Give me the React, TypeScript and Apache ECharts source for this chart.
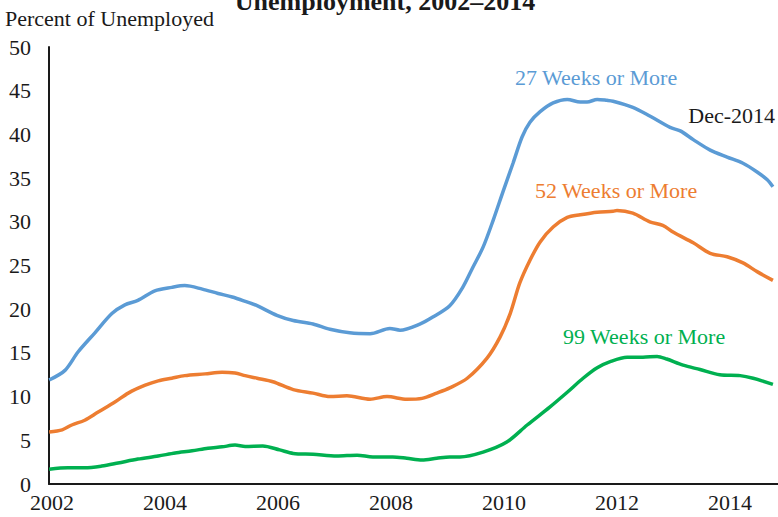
import React, { useEffect, useRef } from "react";
import * as echarts from "echarts";

const xLabels = [2002, 2004, 2006, 2008, 2010, 2012, 2014];
const yTicks = [0, 5, 10, 15, 20, 25, 30, 35, 40, 45, 50];

const weeks27: [number, number][] = [
  [2001.95, 11.9], [2002.23, 13.0], [2002.46, 15.1], [2002.76, 17.3], [2003.06, 19.5],
  [2003.29, 20.5], [2003.52, 21.0], [2003.82, 22.1], [2004.12, 22.5], [2004.35, 22.7],
  [2004.66, 22.3], [2004.94, 21.8], [2005.19, 21.4], [2005.42, 20.9], [2005.63, 20.4],
  [2005.98, 19.3], [2006.27, 18.7], [2006.62, 18.3], [2006.92, 17.7], [2007.27, 17.3],
  [2007.63, 17.2], [2007.98, 17.8], [2008.16, 17.6], [2008.51, 18.3], [2008.74, 19.1],
  [2009.04, 20.4], [2009.27, 22.5], [2009.45, 24.8], [2009.63, 27.1], [2009.81, 30.2],
  [2009.98, 33.4], [2010.16, 36.7], [2010.32, 39.7], [2010.46, 41.4], [2010.64, 42.6],
  [2010.87, 43.6], [2011.12, 44.0], [2011.35, 43.7], [2011.47, 43.7], [2011.65, 44.0],
  [2011.82, 43.9], [2011.93, 43.8], [2012.28, 43.1], [2012.58, 42.1], [2012.94, 40.8],
  [2013.12, 40.4], [2013.35, 39.4], [2013.65, 38.2], [2013.95, 37.4], [2014.23, 36.7],
  [2014.48, 35.7], [2014.66, 34.8], [2014.76, 34.0],
];

const weeks52: [number, number][] = [
  [2001.95, 5.95], [2002.18, 6.2], [2002.35, 6.75], [2002.58, 7.3], [2002.81, 8.2],
  [2003.12, 9.4], [2003.35, 10.4], [2003.65, 11.3], [2003.88, 11.8], [2004.12, 12.1],
  [2004.35, 12.4], [2004.71, 12.6], [2005.01, 12.8], [2005.24, 12.7], [2005.42, 12.4],
  [2005.63, 12.1], [2005.91, 11.7], [2006.27, 10.8], [2006.62, 10.4], [2006.92, 10.0],
  [2007.22, 10.1], [2007.63, 9.7], [2007.93, 10.0], [2008.28, 9.7], [2008.55, 9.8],
  [2008.81, 10.4], [2009.04, 11.0], [2009.35, 12.1], [2009.7, 14.4], [2009.93, 16.8],
  [2010.11, 19.5], [2010.28, 23.0], [2010.46, 25.6], [2010.64, 27.7], [2010.87, 29.4],
  [2011.12, 30.5], [2011.35, 30.8], [2011.65, 31.1], [2011.93, 31.2], [2012.0, 31.3],
  [2012.28, 31.0], [2012.58, 30.0], [2012.81, 29.6], [2013.0, 28.8], [2013.35, 27.6],
  [2013.65, 26.4], [2013.95, 26.0], [2014.23, 25.3], [2014.48, 24.3], [2014.76, 23.3],
];

const weeks99: [number, number][] = [
  [2001.95, 1.7], [2002.28, 1.85], [2002.58, 1.85], [2002.88, 2.05], [2003.17, 2.4],
  [2003.52, 2.85], [2003.88, 3.2], [2004.18, 3.55], [2004.48, 3.8], [2004.76, 4.1],
  [2005.01, 4.25], [2005.24, 4.45], [2005.42, 4.3], [2005.73, 4.35], [2006.03, 3.9],
  [2006.27, 3.5], [2006.62, 3.4], [2007.04, 3.2], [2007.4, 3.3], [2007.68, 3.1],
  [2008.03, 3.1], [2008.28, 2.95], [2008.55, 2.75], [2008.81, 2.95], [2009.04, 3.1],
  [2009.22, 3.1], [2009.63, 3.65], [2010.05, 4.8], [2010.41, 6.75], [2010.81, 8.8],
  [2011.12, 10.5], [2011.4, 12.1], [2011.65, 13.3], [2011.88, 14.0], [2012.18, 14.5],
  [2012.46, 14.5], [2012.71, 14.6], [2012.88, 14.3], [2013.17, 13.6], [2013.47, 13.1],
  [2013.82, 12.5], [2014.18, 12.4], [2014.41, 12.1], [2014.76, 11.4],
];

const FONT = "'Liberation Serif', 'Times New Roman', serif";
const BLUE = "#5B9BD5";
const ORANGE = "#ED7D31";
const GREEN = "#00B050";

export default function App() {
  const ref = useRef<HTMLDivElement>(null);
  useEffect(() => {
    if (!ref.current) return;
    const chart = echarts.init(ref.current, null, { renderer: "svg" });
    const lineSeries = (name: string, data: [number, number][], color: string) => ({
      name,
      type: "line",
      data,
      smooth: 0.3,
      symbol: "none",
      lineStyle: { color, width: 3.5 },
      itemStyle: { color },
    });
    chart.setOption({
      animation: false,
      backgroundColor: "#ffffff",
      grid: { left: 49, right: 0, top: 47, bottom: 33, containLabel: false },
      xAxis: {
        type: "value",
        min: 2001.947,
        max: 2014.85,
        axisLine: { show: true, lineStyle: { color: "#1a1a1a", width: 2 } },
        axisTick: { show: false },
        splitLine: { show: false },
        axisLabel: {
          customValues: xLabels,
          formatter: (v: number) => String(Math.round(v)),
          fontFamily: FONT,
          fontSize: 22,
          color: "#1a1a1a",
          margin: 7,
        },
      },
      yAxis: {
        type: "value",
        min: 0,
        max: 50,
        interval: 5,
        axisLine: { show: true, lineStyle: { color: "#1a1a1a", width: 2 } },
        axisTick: { show: false },
        splitLine: { show: false },
        axisLabel: {
          customValues: yTicks,
          fontFamily: FONT,
          fontSize: 22,
          color: "#1a1a1a",
          margin: 18,
        },
      },
      series: [
        lineSeries("27 Weeks or More", weeks27, BLUE),
        lineSeries("52 Weeks or More", weeks52, ORANGE),
        lineSeries("99 Weeks or More", weeks99, GREEN),
      ],
      graphic: [
        {
          type: "text",
          x: 385,
          y: 1,
          style: {
            text: "Unemployment, 2002–2014",
            fontFamily: FONT,
            fontSize: 26,
            fontWeight: "bold",
            fill: "#1a1a1a",
            align: "center",
            verticalAlign: "middle",
          },
        },
        {
          type: "text",
          x: 5,
          y: 18,
          style: { text: "Percent of Unemployed", fontFamily: FONT, fontSize: 22, fill: "#1a1a1a", align: "left", verticalAlign: "middle" },
        },
        {
          type: "text",
          x: 515,
          y: 77,
          style: { text: "27 Weeks or More", fontFamily: FONT, fontSize: 22, fill: BLUE, align: "left", verticalAlign: "middle" },
        },
        {
          type: "text",
          x: 535,
          y: 190,
          style: { text: "52 Weeks or More", fontFamily: FONT, fontSize: 22, fill: ORANGE, align: "left", verticalAlign: "middle" },
        },
        {
          type: "text",
          x: 563,
          y: 336,
          style: { text: "99 Weeks or More", fontFamily: FONT, fontSize: 22, fill: GREEN, align: "left", verticalAlign: "middle" },
        },
        {
          type: "text",
          x: 775,
          y: 115,
          style: { text: "Dec-2014", fontFamily: FONT, fontSize: 22, fill: "#1a1a1a", align: "right", verticalAlign: "middle" },
        },
      ],
    });
    return () => chart.dispose();
  }, []);
  return (
    <div
      ref={ref}
      style={{ position: "fixed", left: 0, top: 0, width: 778, height: 517 }}
    />
  );
}
